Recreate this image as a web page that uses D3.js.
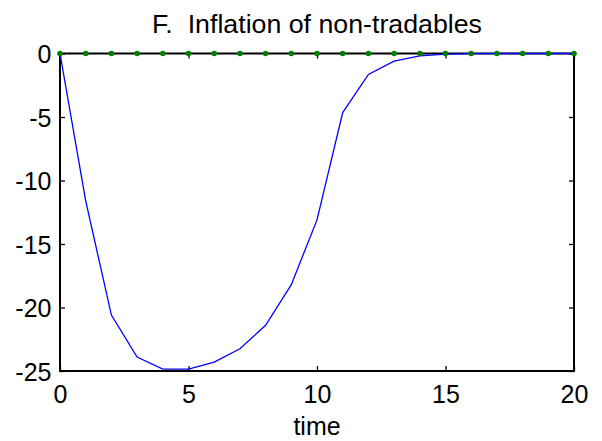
<!DOCTYPE html>
<html>
<head>
<meta charset="utf-8">
<script src="https://cdn.jsdelivr.net/npm/d3@7/dist/d3.min.js"></script>
<style>
  html, body { margin: 0; padding: 0; background: #fff; }
  svg { display: block; }
  text { font-family: "Liberation Sans", Arial, Helvetica, sans-serif; fill: #000; }
</style>
</head>
<body>
<svg id="chart" width="602" height="441"></svg>
<script>
// Impulse response: inflation of non-tradables over time
const time = d3.range(0, 21);
const nonTradablesInflation = [
  0, -11.6, -20.6, -23.9, -24.85, -24.85, -24.3, -23.25, -21.4, -18.2,
  -13.1, -4.65, -1.65, -0.6, -0.18, -0.05, -0.01, 0, 0, 0, 0
];
const baseline = [0, 0, 0, 0, 0, 0, 0, 0, 0, 0, 0, 0, 0, 0, 0, 0, 0, 0, 0, 0, 0];
const xTicks = [0, 5, 10, 15, 20];
const yTicks = [0, -5, -10, -15, -20, -25];
const titleText = "F.  Inflation of non-tradables";
const xLabel = "time";

const svg = d3.select("#chart");
const plotLeft = 60, plotRight = 574, plotTop = 53.5, plotBottom = 371;

const x = d3.scaleLinear().domain([0, 20]).range([plotLeft, plotRight]);
const y = d3.scaleLinear().domain([-25, 0]).range([plotBottom, plotTop]);

const tickFont = 25;
const titleFont = 26.5;
const tickLen = 5;
const plainNumber = d => String(d);   // ASCII hyphen for negatives

// Ticks on all four sides, pointing inward
const gAxes = svg.append("g");
gAxes.append("g")
  .attr("transform", `translate(0,${plotBottom})`)
  .call(d3.axisBottom(x).tickValues(xTicks).tickSize(-tickLen).tickFormat(plainNumber))
  .call(g => g.select(".domain").remove())
  .call(g => g.selectAll("text").attr("font-size", tickFont).attr("y", 31.5).attr("dy", 0));
gAxes.append("g")
  .attr("transform", `translate(0,${plotTop})`)
  .call(d3.axisTop(x).tickValues(xTicks).tickSize(-tickLen).tickFormat(""))
  .call(g => g.select(".domain").remove());
gAxes.append("g")
  .attr("transform", `translate(${plotLeft},0)`)
  .call(d3.axisLeft(y).tickValues(yTicks).tickSize(-tickLen).tickFormat(plainNumber))
  .call(g => g.select(".domain").remove())
  .call(g => g.selectAll("text").attr("font-size", tickFont).attr("x", -8.5).attr("dy", "0.36em"));
gAxes.append("g")
  .attr("transform", `translate(${plotRight},0)`)
  .call(d3.axisRight(y).tickValues(yTicks).tickSize(-tickLen).tickFormat(""))
  .call(g => g.select(".domain").remove());
gAxes.selectAll(".tick line").attr("stroke", "#000").attr("stroke-width", 1.3);
gAxes.selectAll("text").style("font-family", '"Liberation Sans", Arial, sans-serif');

// Box
svg.append("rect")
  .attr("x", plotLeft).attr("y", plotTop)
  .attr("width", plotRight - plotLeft).attr("height", plotBottom - plotTop)
  .attr("fill", "none").attr("stroke", "#000").attr("stroke-width", 2);

// Response line
const line = d3.line().x((d, i) => x(time[i])).y(d => y(d));
svg.append("path")
  .datum(nonTradablesInflation)
  .attr("d", line)
  .attr("fill", "none")
  .attr("stroke", "#0000ff")
  .attr("stroke-width", 1.3);

// Zero reference markers
svg.append("g").selectAll("circle")
  .data(baseline)
  .join("circle")
  .attr("cx", (d, i) => x(time[i]))
  .attr("cy", d => y(d))
  .attr("r", 2.8)
  .attr("fill", "#008000");

// Title and axis label
svg.append("text")
  .attr("x", (plotLeft + plotRight) / 2).attr("y", 33)
  .attr("text-anchor", "middle")
  .attr("font-size", titleFont)
  .attr("xml:space", "preserve")
  .attr("textLength", 330)
  .attr("lengthAdjust", "spacingAndGlyphs")
  .style("white-space", "pre")
  .text(titleText);

svg.append("text")
  .attr("x", (plotLeft + plotRight) / 2).attr("y", 435)
  .attr("text-anchor", "middle")
  .attr("font-size", tickFont)
  .text(xLabel);
</script>
</body>
</html>
